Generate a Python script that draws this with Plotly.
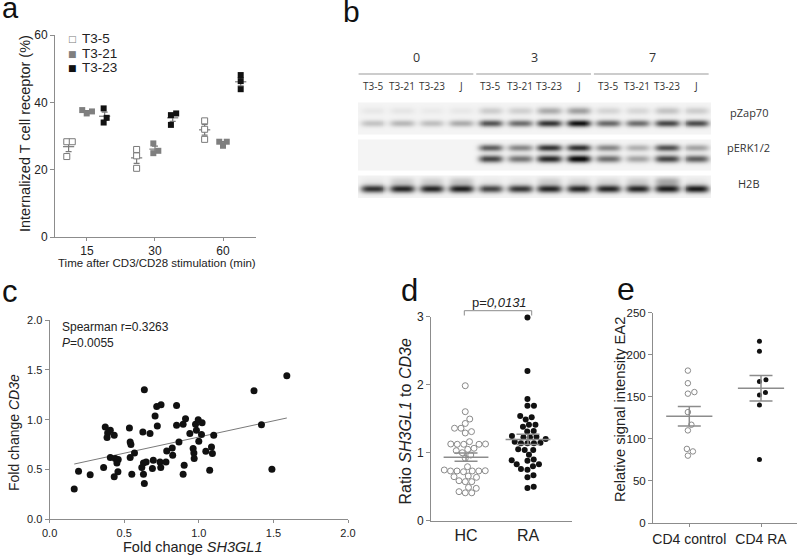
import numpy as np
import plotly.graph_objects as go

W, H = 797, 555
def fx(px): return px / W
def fy(py): return 1 - py / H

FONT = "Liberation Sans"
TXT = "#222222"
AXC = "#8c8c8c"

# ---------------- data ----------------
# panel a : internalized TCR (%), 3 replicates per time point
a_times = ["15", "30", "60"]
a_names = ["T3-5", "T3-21", "T3-23"]
a_t35 = [[28.3, 28.3, 23.9], [26.0, 24.1, 20.4], [34.5, 32.0, 29.0]]
a_t321 = [[37.7, 37.3, 36.7], [27.8, 25.6, 24.9], [28.3, 28.3, 27.1]]
a_t323 = [[38.2, 35.4, 34.0], [36.7, 36.2, 33.3], [48.1, 46.3, 43.9]]

# panel b : western blot band intensities (0..1) for 12 lanes
b_times = ["0", "3", "7"]
b_lanes = ["T3-5", "T3-21", "T3-23", "J"]
b_rows = ["pZap70", "pERK1/2", "H2B"]
b_zap_upper = [0.05, 0.06, 0.04, 0.05, 0.16, 0.15, 0.30, 0.35, 0.13, 0.12, 0.20, 0.16]
b_zap_lower = [0.20, 0.25, 0.22, 0.30, 0.66, 0.56, 0.80, 0.95, 0.58, 0.56, 0.72, 0.70]
b_erk_upper = [0.0, 0.0, 0.0, 0.0, 0.62, 0.45, 0.80, 0.82, 0.45, 0.28, 0.68, 0.33]
b_erk_lower = [0.0, 0.0, 0.0, 0.0, 0.72, 0.52, 0.85, 1.00, 0.55, 0.33, 0.72, 0.62]
b_h2b_smear = [0.04, 0.14, 0.14, 0.18, 0.04, 0.05, 0.14, 0.10, 0.10, 0.14, 0.30, 0.05]
b_h2b = [0.80, 0.85, 0.85, 0.88, 0.72, 0.78, 0.85, 0.85, 0.85, 0.85, 0.88, 0.90]

# panel c : fold change SH3GL1 vs CD3e
c_sh3gl1 = [0.165, 0.194, 0.272, 0.362, 0.373, 0.407, 0.389, 0.433, 0.385,
            0.407, 0.440, 0.460, 0.451, 0.458, 0.433, 0.535, 0.540, 0.545,
            0.569, 0.540, 0.551, 0.635, 0.625, 0.673, 0.707, 0.722, 0.718,
            0.747, 0.851, 0.629, 0.647, 0.618, 0.629, 0.635, 0.695, 0.689,
            0.740, 0.745, 0.780, 0.785, 0.822, 0.825, 0.851, 0.895, 0.867,
            0.911, 0.940, 0.978, 0.996, 1.022, 0.984, 1.018, 1.100, 1.000,
            0.962, 0.967, 0.969, 1.047, 1.085, 1.091, 0.902, 0.895, 1.073,
            1.370, 1.420, 1.490, 1.590]
c_cd3e = [0.303, 0.483, 0.447, 0.520, 0.926, 0.893, 0.866, 0.843, 0.820,
          0.620, 0.610, 0.600, 0.566, 0.476, 0.426, 0.916, 0.776, 0.750,
          0.666, 0.620, 0.453, 1.300, 0.876, 0.860, 1.036, 0.936, 1.133,
          1.150, 1.143, 0.566, 0.576, 0.520, 0.453, 0.360, 0.593, 0.510,
          0.576, 0.520, 0.576, 0.686, 0.716, 0.643, 0.943, 0.953, 0.776,
          1.010, 0.860, 0.953, 1.000, 0.970, 0.893, 0.850, 0.843, 0.783,
          0.710, 0.666, 0.610, 0.683, 0.726, 0.660, 0.543, 0.453, 0.493,
          1.290, 0.950, 0.503, 1.440]
c_spearman_r = "0.3263"
c_p = "0.0055"

# panel d : ratio SH3GL1 to CD3e
d_groups = ["HC", "RA"]
d_hc = [1.985, 1.603, 1.495, 1.43, 1.36, 1.36, 1.31, 1.29, 1.162, 1.128,
        1.124, 1.124, 1.128, 1.124, 1.065, 1.05, 1.03, 1.0, 0.966, 0.918,
        0.794, 0.746, 0.731, 0.72, 0.731, 0.731, 0.735, 0.731, 0.638, 0.657,
        0.647, 0.574, 0.574, 0.588, 0.49, 0.427, 0.41, 0.41, 0.476]
d_ra = [2.99, 2.20, 1.79, 1.69, 1.69, 1.52, 1.49, 1.54, 1.41, 1.38, 1.41,
        1.31, 1.32, 1.235, 1.20, 1.226, 1.226, 1.245, 1.14, 1.147, 1.16,
        1.14, 1.14, 1.05, 1.04, 1.04, 0.97, 0.88, 0.89, 0.90, 0.83, 0.80,
        0.83, 0.75, 0.76, 0.67, 0.64, 0.48, 0.50]
d_p = "0,0131"

# panel e : relative signal intensity EA2
e_groups = ["CD4 control", "CD4 RA"]
e_control = [181, 166, 155.5, 153.6, 131.7, 116.7, 110, 88, 85, 80]
e_ra = [216, 204, 170, 168, 155, 152, 140, 75.5]


# ---------------- helpers ----------------
def swarm(vals, ypu, xpu, diam):
    """beeswarm offsets (data units along x) for one column of points"""
    vals = np.asarray(vals, float)
    order = np.argsort(vals, kind="stable")
    steps = [0.0]
    for k in range(1, 400):
        steps += [k * 0.25, -k * 0.25]
    placed, offs = [], np.zeros(len(vals))
    for i in order:
        yv = vals[i] * ypu
        for c in steps:
            if all((c - px) ** 2 + (yv - py) ** 2 >= diam ** 2 - 1e-9 for px, py in placed):
                break
        placed.append((c, yv))
        offs[i] = c
    offs -= offs.mean()
    return offs / xpu


def mean_sem(v):
    v = np.asarray(v, float)
    return v.mean(), v.std(ddof=1) / np.sqrt(len(v))


def axis_style(tsize, **kw):
    d = dict(showline=True, linecolor=AXC, linewidth=1, ticks="outside",
             ticklen=4, tickcolor=AXC, tickwidth=1, showgrid=False,
             zeroline=False, tickfont=dict(family=FONT, size=tsize, color=TXT),
             fixedrange=True, automargin=False)
    d.update(kw)
    return d


fig = go.Figure()
ann = []
shapes = []

# ---------------- panel a ----------------
a_off = [-0.27, 0.0, 0.26]
a_style = [dict(symbol="square", color="white", line=dict(color="#7a7a7a", width=1)),
           dict(symbol="square", color="#7f7f7f", line=dict(width=0)),
           dict(symbol="square", color="#111111", line=dict(width=0))]
for si, data in enumerate([a_t35, a_t321, a_t323]):
    xs, ys, mx, my, me = [], [], [], [], []
    for ti, vals in enumerate(data):
        o = swarm(vals, 3.367, 68.0, 5.5)
        xs += list(ti + a_off[si] + o)
        ys += list(vals)
        m, s = mean_sem(vals)
        mx.append(ti + a_off[si]); my.append(m); me.append(s)
    fig.add_trace(go.Scatter(x=mx, y=my, mode="markers", xaxis="x", yaxis="y",
                             marker=dict(symbol="line-ew", size=8, color="#7a7a7a",
                                         line=dict(color="#7a7a7a", width=1.2)),
                             error_y=dict(type="data", array=me, color="#7a7a7a",
                                          thickness=1.2, width=3),
                             showlegend=False, hoverinfo="skip", cliponaxis=False))
    fig.add_trace(go.Scatter(x=xs, y=ys, mode="markers", name=a_names[si],
                             xaxis="x", yaxis="y",
                             marker=dict(size=6, **a_style[si]),
                             showlegend=False, cliponaxis=False))

# legend for panel a (as text)
leg_sym = ['<span style="color:#7a7a7a">□</span>',
           '<span style="color:#7f7f7f">■</span>',
           '<span style="color:#111111">■</span>']
for i, nm in enumerate(a_names):
    yy = 39 + i * 14.5
    ann.append(dict(text=leg_sym[i], x=fx(72), y=fy(yy), xref="paper", yref="paper",
                    xanchor="center", yanchor="middle", showarrow=False,
                    font=dict(family="DejaVu Sans", size=9)))
    ann.append(dict(text=nm, x=fx(80), y=fy(yy), xref="paper", yref="paper",
                    xanchor="left", yanchor="middle", showarrow=False,
                    font=dict(family=FONT, size=13.5, color=TXT)))

# ---------------- panel b (blot) ----------------
bx = np.linspace(-0.5, 11.5, 361)
by = np.arange(100, 199, 1.0)
BX, BY = np.meshgrid(bx, by)
z = np.zeros_like(BX)
strips = [(102, 133), (139, 169), (175, 197)]
inside = np.zeros_like(BX, dtype=bool)
for t, b in strips:
    inside |= (BY >= t) & (BY <= b)
z[inside] = 0.045
bands = [(b_zap_upper, 110.0, 2.6), (b_zap_lower, 122.5, 2.4),
         (b_erk_upper, 147.0, 2.4), (b_erk_lower, 158.0, 2.6),
         (b_h2b_smear, 180.5, 3.0), (b_h2b, 188.0, 2.7)]
for vals, yc, sy in bands:
    for li, v in enumerate(vals):
        prof = np.exp(-(np.abs(BX - li) / 0.42) ** 4)
        z += v * prof * np.exp(-0.5 * ((BY - yc) / sy) ** 2)
z = np.where(inside, np.clip(z, 0, 1), 0)
fig.add_trace(go.Heatmap(x=bx, y=by, z=z, xaxis="x2", yaxis="y2", zmin=0, zmax=1,
                         colorscale=[[0, "#ffffff"], [1, "#0c0c0c"]], zsmooth="best",
                         showscale=False, hoverinfo="skip"))
BF = "Open Sans"
for g, t in enumerate(b_times):
    ann.append(dict(text=t, x=g * 4 + 1.5, y=57, xref="x2", yref="y2", showarrow=False,
                    xanchor="center", yanchor="middle",
                    font=dict(family=BF, size=12.5, color="#333")))
    shapes.append(dict(type="line", xref="x2", yref="y2", x0=g * 4 - 0.48,
                       x1=g * 4 + 3.42, y0=74, y1=74, line=dict(color="#999", width=1)))
    for li, ln in enumerate(b_lanes):
        ann.append(dict(text=ln, x=g * 4 + li, y=85.5, xref="x2", yref="y2",
                        showarrow=False, xanchor="center", yanchor="middle",
                        font=dict(family=BF, size=10, color="#333")))
for ry, rn in zip([112, 147, 183], b_rows):
    ann.append(dict(text=rn, x=12.78, y=ry, xref="x2", yref="y2", showarrow=False,
                    xanchor="center", yanchor="middle",
                    font=dict(family=BF, size=11, color="#333")))

# ---------------- panel c ----------------
cx = np.array(c_sh3gl1); cy = np.array(c_cd3e)
slope, icpt = np.polyfit(cx, cy, 1)
lx = np.array([cx.min(), cx.max()])
fig.add_trace(go.Scatter(x=lx, y=icpt + slope * lx, mode="lines", xaxis="x3", yaxis="y3",
                         line=dict(color="#7a7a7a", width=1), showlegend=False,
                         hoverinfo="skip"))
fig.add_trace(go.Scatter(x=cx, y=cy, mode="markers", xaxis="x3", yaxis="y3",
                         marker=dict(size=7, color="#111111"), showlegend=False,
                         cliponaxis=False, name="SH3GL1 vs CD3e"))
ann.append(dict(text=f"Spearman r={c_spearman_r}", x=fx(60), y=fy(326.5), xref="paper",
                yref="paper", xanchor="left", yanchor="middle", showarrow=False,
                font=dict(family=FONT, size=12, color=TXT)))
ann.append(dict(text=f"<i>P</i>={c_p}", x=fx(60), y=fy(342.5), xref="paper",
                yref="paper", xanchor="left", yanchor="middle", showarrow=False,
                font=dict(family=FONT, size=12, color=TXT)))

# ---------------- panel d ----------------
d_style = [dict(color="white", line=dict(color="#8a8a8a", width=1)),
           dict(color="#111111", line=dict(width=0))]
for gi, vals in enumerate([d_hc, d_ra]):
    o = swarm(vals, 68.0, 62.0, 6.3)
    fig.add_trace(go.Scatter(x=gi + o, y=vals, mode="markers", xaxis="x4", yaxis="y4",
                             marker=dict(size=6, **d_style[gi]), name=d_groups[gi],
                             showlegend=False, cliponaxis=False))
for gi, vals in enumerate([d_hc, d_ra]):
    m, s = mean_sem(vals)
    fig.add_trace(go.Scatter(x=[gi], y=[m], mode="markers", xaxis="x4", yaxis="y4",
                             marker=dict(symbol="line-ew", size=32, color="#8c8c8c",
                                         line=dict(color="#8c8c8c", width=1.5)),
                             error_y=dict(type="data", array=[s], color="#8c8c8c",
                                          thickness=1.5, width=11.5),
                             showlegend=False, hoverinfo="skip", cliponaxis=False))
shapes.append(dict(type="path", xref="paper", yref="paper",
                   path=f"M {fx(464.3)} {fy(315.5)} L {fx(464.3)} {fy(310.7)} "
                        f"L {fx(531.7)} {fy(310.7)} L {fx(531.7)} {fy(315.5)}",
                   line=dict(color="#8c8c8c", width=1)))
ann.append(dict(text=f"p=<i>{d_p}</i>", x=fx(499), y=fy(302), xref="paper", yref="paper",
                xanchor="center", yanchor="middle", showarrow=False,
                font=dict(family=FONT, size=13, color=TXT)))

# ---------------- panel e ----------------
e_style = [dict(color="white", line=dict(color="#8a8a8a", width=1)),
           dict(color="#111111", line=dict(width=0))]
for gi, vals in enumerate([e_control, e_ra]):
    o = swarm(vals, 0.84, 71.7, 6.5)
    fig.add_trace(go.Scatter(x=gi + o, y=vals, mode="markers", xaxis="x5", yaxis="y5",
                             marker=dict(size=5.5 if gi == 0 else 5, **e_style[gi]),
                             name=e_groups[gi], showlegend=False, cliponaxis=False))
for gi, vals in enumerate([e_control, e_ra]):
    m, s = mean_sem(vals)
    fig.add_trace(go.Scatter(x=[gi], y=[m], mode="markers", xaxis="x5", yaxis="y5",
                             marker=dict(symbol="line-ew", size=33, color="#8c8c8c",
                                         line=dict(color="#8c8c8c", width=1.5)),
                             error_y=dict(type="data", array=[s], color="#8c8c8c",
                                          thickness=1.5, width=11.5),
                             showlegend=False, hoverinfo="skip", cliponaxis=False))

# ---------------- axis titles & panel letters ----------------
def title(text, x, y, size, angle=0):
    ann.append(dict(text=text, x=fx(x), y=fy(y), xref="paper", yref="paper",
                    xanchor="center", yanchor="middle", showarrow=False, textangle=angle,
                    font=dict(family=FONT, size=size, color=TXT)))

title("Internalized T cell receptor (%)", 25, 134, 14.5, -90)
title("Time after CD3/CD28 stimulation (min)", 157, 262.5, 11.5)
title("Fold change <i>CD3e</i>", 14, 433, 14, -90)
title("Fold change <i>SH3GL1</i>", 192, 546.5, 14.5)
title("Ratio <i>SH3GL1</i> to <i>CD3e</i>", 404.5, 421, 16, -90)
title("Relative signal intensity EA2", 620, 410, 14.7, -90)

for letter, x, y, s in [("a", 0, 8, 29), ("b", 341, 11, 30), ("c", 0, 291, 31),
                        ("d", 399, 290, 31), ("e", 615, 289, 32)]:
    ann.append(dict(text=letter, x=fx(x), y=fy(y), xref="paper", yref="paper",
                    xanchor="left", yanchor="middle", showarrow=False,
                    font=dict(family=FONT, size=s, color="#111")))

# ---------------- layout ----------------
lanepx = 353 / 12
fig.update_layout(
    template="none",
    width=W, height=H, margin=dict(l=0, r=0, t=0, b=0, autoexpand=False),
    paper_bgcolor="white", plot_bgcolor="white", showlegend=False,
    annotations=ann, shapes=shapes,
    xaxis=axis_style(12, domain=[fx(55), fx(256)], range=[-0.47, 2.485],
                     tickvals=[0, 1, 2], ticktext=a_times, ticklen=3, anchor="y"),
    yaxis=axis_style(12, domain=[fy(237), fy(35)], range=[0, 60],
                     tickvals=[0, 20, 40, 60], anchor="x"),
    xaxis2=dict(domain=[fx(358), fx(358 + 14 * lanepx)], range=[-0.5, 13.5],
                visible=False, fixedrange=True, anchor="y2", automargin=False),
    yaxis2=dict(domain=[fy(198), fy(40)], range=[198, 40], visible=False,
                fixedrange=True, anchor="x2", automargin=False),
    xaxis3=axis_style(11, domain=[fx(49.6), fx(348)], range=[0, 2], ticklen=3,
                      tickvals=[0, 0.5, 1, 1.5, 2], tickformat=".1f", anchor="y3"),
    yaxis3=axis_style(11, domain=[fy(519.3), fy(320)], range=[0, 2],
                      tickvals=[0, 0.5, 1, 1.5, 2], tickformat=".1f", anchor="x3"),
    xaxis4=axis_style(16, domain=[fx(431), fx(572)], range=[-0.565, 1.71],
                      tickvals=[0, 1], ticktext=d_groups, ticks="", anchor="y4"),
    yaxis4=axis_style(12, domain=[fy(520.7), fy(316.7)], range=[0, 3],
                      tickvals=[0, 1, 2, 3], anchor="x4"),
    xaxis5=axis_style(14, domain=[fx(653), fx(797)], range=[-0.506, 1.502],
                      tickvals=[0, 1], ticktext=e_groups, ticklen=3, anchor="y5"),
    yaxis5=axis_style(11.5, domain=[fy(523), fy(312.5)], range=[0, 250],
                      tickvals=[0, 50, 100, 150, 200, 250], anchor="x5"),
)

fig.write_html("out.html", config={"displayModeBar": False},
               post_script="document.body.style.margin='0';document.body.style.padding='0';")
